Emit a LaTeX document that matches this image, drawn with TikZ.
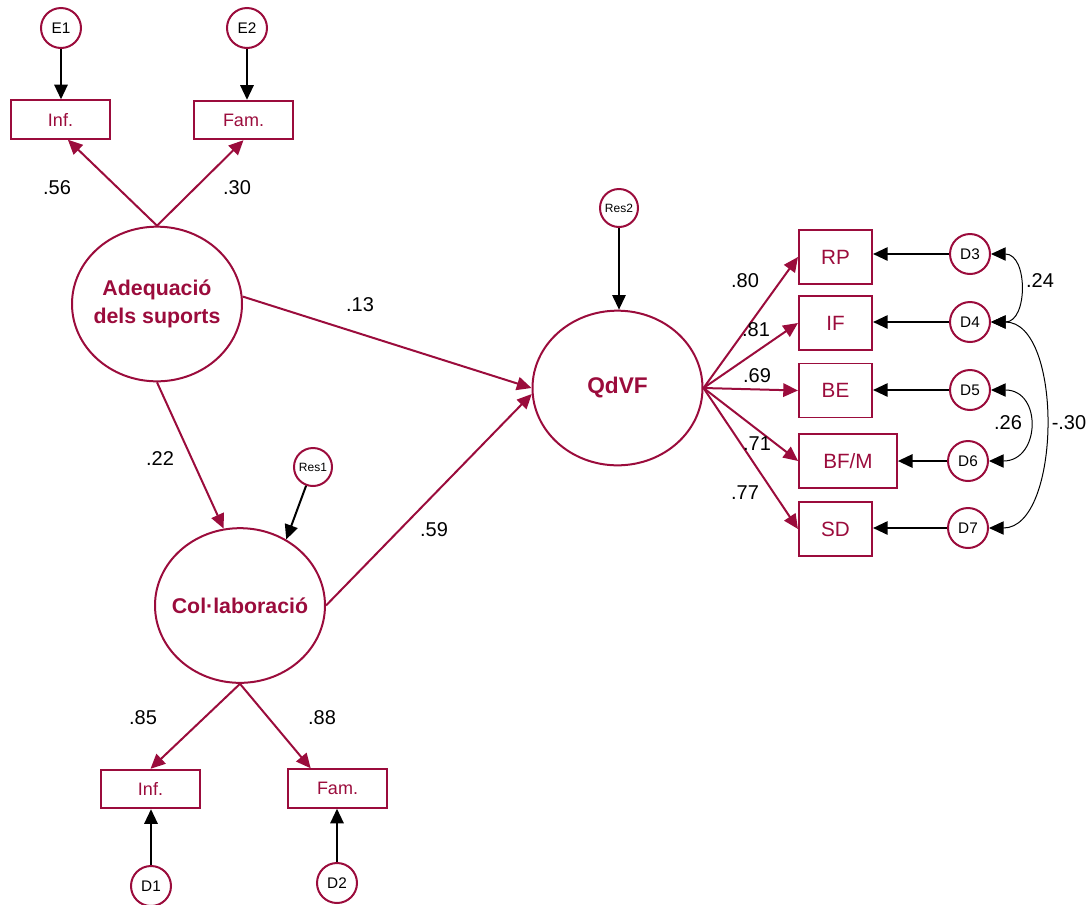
\documentclass[tikz,border=0pt]{standalone}
\usepackage{fontspec}
\setmainfont{Liberation Sans}
\usetikzlibrary{shapes.geometric,arrows.meta}
\definecolor{wine}{RGB}{155,12,60}

\begin{document}
\begin{tikzpicture}[x=0.75pt,y=-0.75pt,
	latent/.style={ellipse,draw=wine,line width=1.5pt,text=wine,align=center,inner xsep=-8pt,inner ysep=0pt,
		minimum width=127.5pt,minimum height=116pt,font=\bfseries\fontsize{16}{21}\selectfont},
	obs/.style={rectangle,draw=wine,line width=1.3pt,text=wine,inner sep=0pt},
	err/.style={circle,draw=wine,line width=1.5pt,inner sep=0pt,minimum size=30pt,font=\fontsize{11.5}{13}\selectfont},
	load/.style={draw=wine,line width=1.5pt,-{Triangle[length=11pt,width=10pt]}},
	res/.style={line width=1.5pt,-{Triangle[length=11pt,width=10pt]}},
	cov/.style={line width=0.75pt,{Triangle[length=11pt,width=10pt]}-{Triangle[length=11pt,width=10pt]}},
	coef/.style={font=\fontsize{15}{18}\selectfont}]
	\useasboundingbox (0,0) rectangle (1086,904);

	% latent variables
	\node[latent] (ad) at (157,304) {Adequació\\dels suports};
	\node[latent] (col) at (240,605.5) {Col·laboració};
	\node[latent,font=\bfseries\fontsize{17}{21}\selectfont] (qd) at (617.5,388) {QdVF};

	% indicators on the left
	\foreach \n/\t/\x/\y in {inf1/Inf./60.5/119.5, fam1/Fam./243.5/120, inf2/Inf./150.5/789, fam2/Fam./337.5/788.5}
		\node[obs,minimum width=74pt,minimum height=29pt,font=\fontsize{13.5}{16}\selectfont] (\n) at (\x,\y) {\t};

	% indicators of QdVF
	\foreach \n/\t/\y in {rp/RP/257, if/IF/323, be/BE/390.5, sd/SD/529}
		\node[obs,minimum width=55pt,minimum height=40.5pt,font=\fontsize{15.5}{18}\selectfont] (\n) at (835.5,\y) {\t};
	\node[obs,minimum width=73.5pt,minimum height=40.5pt,font=\fontsize{15.5}{18}\selectfont] (bfm) at (848,461) {BF/M};

	% errors
	\node[err] (e1) at (61,28) {E1};
	\node[err] (e2) at (247,28) {E2};
	\node[err] (d1) at (151,886) {D1};
	\node[err] (d2) at (337,883) {D2};
	\node[err,minimum size=28.5pt,font=\fontsize{9}{11}\selectfont] (res1) at (313,467) {Res1};
	\node[err,minimum size=28.5pt,font=\fontsize{9}{11}\selectfont] (res2) at (619,208) {Res2};

	\draw[res] (e1.south) -- (e1.south |- inf1.north);
	\draw[res] (e2.south) -- (e2.south |- fam1.north);
	\draw[res] (d1.north) -- (d1.north |- inf2.south);
	\draw[res] (d2.north) -- (d2.north |- fam2.south);
	\draw[res] (res1) -- (col.55);
	\draw[res] (res2.south) -- (res2.south |- qd.north);

	\foreach \i/\x/\y/\b in {3/970/254/rp, 4/970/322/if, 5/970/390/be, 6/968/461/bfm, 7/968/528/sd} {
		\node[err] (d\i) at (\x,\y) {D\i};
		\draw[res] (d\i.west) -- (d\i.west -| \b.east);
	}

	% paths
	\draw[load] (ad.north) -- (inf1.-70);
	\draw[load] (ad.north) -- (fam1.south);
	\draw[load] (ad.5) -- (qd.west);
	\draw[load] (ad.south) -- (col.102);
	\draw[load] (col.east) -- (qd.184);
	\draw[load] (col.south) -- (inf2.north);
	\draw[load] (col.south) -- (fam2.143);
	\foreach \b in {rp,if,be,bfm,sd}
		\draw[load] (qd.east) -- (\b.west);

	% covariances
	\draw[cov] (d3.east) to[out=0,in=0,looseness=1.4] (d4.east);
	\draw[cov] (d5.east) to[out=0,in=0,looseness=1.85] (d6.east);
	\draw[cov] (d4.east) to[out=0,in=0,looseness=0.9] (d7.east);

	% estimates
	\foreach \v/\x/\y [count=\i] in {.56/57/188, .30/237/188, .13/360/305, .22/160/459, .59/434/530,
		.85/143/718, .88/322/718, .80/745/281, .81/756/330, .69/757/376, .71/757/444, .77/745/493,
		.24/1040/281, .26/1008/423, -.30/1069/423}
		\node[coef] (k\i) at (\x,\y) {\v};
\end{tikzpicture}
\end{document}
